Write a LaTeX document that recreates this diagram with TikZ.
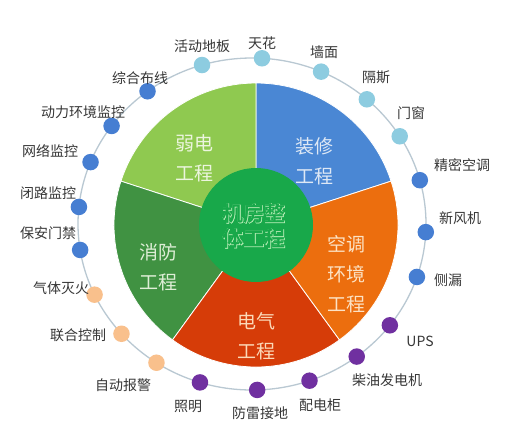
\documentclass[tikz,border=0pt]{standalone}
\usepackage{fontspec}
\setmainfont{Noto Sans CJK SC}
\newfontfamily\cjkfat[UprightFont={* Bold}, FakeBold=2]{Noto Sans CJK SC}
\newfontfamily\cjkb[UprightFont={* Bold}]{Noto Sans CJK SC}
\definecolor{blueseg}{RGB}{74,135,212}
\definecolor{lgreenseg}{RGB}{143,201,80}
\definecolor{dgreenseg}{RGB}{64,146,66}
\definecolor{redseg}{RGB}{214,60,8}
\definecolor{orangeseg}{RGB}{236,110,14}
\definecolor{cgreen}{RGB}{24,168,74}
\definecolor{outl}{RGB}{195,242,190}
\definecolor{labelgray}{RGB}{55,55,55}
\definecolor{dlblue}{RGB}{141,204,224}
\definecolor{dblue}{RGB}{70,126,210}
\definecolor{dpeach}{RGB}{249,192,140}
\definecolor{dpurple}{RGB}{112,48,160}
\definecolor{ringc}{RGB}{185,200,210}
\definecolor{tblue}{RGB}{222,232,245}
\definecolor{tlgreen}{RGB}{236,245,222}
\definecolor{tdgreen}{RGB}{222,238,214}
\definecolor{tred}{RGB}{251,217,184}
\definecolor{torange}{RGB}{252,226,196}
\begin{document}
\begin{tikzpicture}[x=1pt,y=-1pt,
  lbl/.style={font=\fontsize{14}{16}\selectfont, text=labelgray, inner sep=0pt},
  dot/.style={circle, minimum size=16.5pt, inner sep=0pt},
  seg/.style={draw=white, line width=0.8pt},
  segtxt/.style={font=\fontsize{19}{30}\selectfont, align=center, inner sep=0pt},
  ctxt/.style={align=center, inner sep=0pt}]
\useasboundingbox (0,0) rectangle (524,445);
\fill[white] (0,0) rectangle (524,445);
\coordinate (O) at (256,225);
\coordinate (R) at (252,224);
% pie segments
\path[fill=blueseg, seg] (O) -- ++(18:142pt) arc[start angle=18, end angle=90, radius=142pt] -- cycle;
\path[fill=lgreenseg, seg] (O) -- ++(90:142pt) arc[start angle=90, end angle=162, radius=142pt] -- cycle;
\path[fill=dgreenseg, seg] (O) -- ++(162:142pt) arc[start angle=162, end angle=234, radius=142pt] -- cycle;
\path[fill=redseg, seg] (O) -- ++(234:142pt) arc[start angle=234, end angle=306, radius=142pt] -- cycle;
\path[fill=orangeseg, seg] (O) -- ++(306:142pt) arc[start angle=306, end angle=378, radius=142pt] -- cycle;
\fill[cgreen] (O) circle[radius=57pt];
% segment texts
\node[segtxt, text=tlgreen] (s1) at (194,158) {弱电\\工程};
\node[segtxt, text=tblue] (s2) at (314,161) {装修\\工程};
\node[segtxt, text=torange] (s3) at (346,274) {空调\\环境\\工程};
\node[segtxt, text=tred] (s4) at (256,336) {电气\\工程};
\node[segtxt, text=tdgreen] (s5) at (158,267) {消防\\工程};
% center text (outlined look)
\node[ctxt, font=\cjkfat\fontsize{21}{25}\selectfont, text=outl] (c1) at (254,226) {机房整\\体工程};
\node[ctxt, font=\cjkb\fontsize{21}{25}\selectfont, text=cgreen] (c2) at (254,226) {机房整\\体工程};
% ring
\draw[ringc, line width=1.3pt] (R) ellipse[x radius=174pt, y radius=166pt];
% dots
\node[dot, fill=dlblue] (d1) at ([shift={(86.7:174pt and 166pt)}]R) {};
\node[dot, fill=dlblue] (d2) at ([shift={(66.6:174pt and 166pt)}]R) {};
\node[dot, fill=dlblue] (d3) at ([shift={(48.7:174pt and 166pt)}]R) {};
\node[dot, fill=dlblue] (d4) at ([shift={(31.9:174pt and 166pt)}]R) {};
\node[dot, fill=dblue] (d5) at ([shift={(15.3:174pt and 166pt)}]R) {};
\node[dot, fill=dblue] (d6) at ([shift={(-2.8:174pt and 166pt)}]R) {};
\node[dot, fill=dblue] (d7) at ([shift={(-18.6:174pt and 166pt)}]R) {};
\node[dot, fill=dpurple] (d8) at ([shift={(-37.6:174pt and 166pt)}]R) {};
\node[dot, fill=dpurple] (d9) at ([shift={(-53.0:174pt and 166pt)}]R) {};
\node[dot, fill=dpurple] (d10) at ([shift={(-70.7:174pt and 166pt)}]R) {};
\node[dot, fill=dpurple] (d11) at ([shift={(-88.3:174pt and 166pt)}]R) {};
\node[dot, fill=dpurple] (d12) at ([shift={(-107.4:174pt and 166pt)}]R) {};
\node[dot, fill=dpeach] (d13) at ([shift={(-123.3:174pt and 166pt)}]R) {};
\node[dot, fill=dpeach] (d14) at ([shift={(-138.6:174pt and 166pt)}]R) {};
\node[dot, fill=dpeach] (d15) at ([shift={(-154.8:174pt and 166pt)}]R) {};
\node[dot, fill=dblue] (d16) at ([shift={(-171.0:174pt and 166pt)}]R) {};
\node[dot, fill=dblue] (d17) at ([shift={(174.1:174pt and 166pt)}]R) {};
\node[dot, fill=dblue] (d18) at ([shift={(158.1:174pt and 166pt)}]R) {};
\node[dot, fill=dblue] (d19) at ([shift={(143.8:174pt and 166pt)}]R) {};
\node[dot, fill=dblue] (d20) at ([shift={(126.9:174pt and 166pt)}]R) {};
\node[dot, fill=dlblue] (d21) at ([shift={(106.7:174pt and 166pt)}]R) {};
% labels
\node[lbl] (l1) at (262,43) {天花};
\node[lbl] (l2) at (324,52) {墙面};
\node[lbl] (l3) at (376,77) {隔斯};
\node[lbl] (l4) at (411,113) {门窗};
\node[lbl] (l5) at (462,165) {精密空调};
\node[lbl] (l6) at (460,218) {新风机};
\node[lbl] (l7) at (448,280) {侧漏};
\node[lbl] (l8) at (420,341) {UPS};
\node[lbl] (l9) at (387,380) {柴油发电机};
\node[lbl] (l10) at (320,405) {配电柜};
\node[lbl] (l11) at (260,413) {防雷接地};
\node[lbl] (l12) at (188,407) {照明};
\node[lbl] (l13) at (123,385) {自动报警};
\node[lbl] (l14) at (78,335) {联合控制};
\node[lbl] (l15) at (61,288) {气体灭火};
\node[lbl] (l16) at (48,233) {保安门禁};
\node[lbl] (l17) at (48,193) {闭路监控};
\node[lbl] (l18) at (50,151) {网络监控};
\node[lbl] (l19) at (83,112) {动力环境监控};
\node[lbl] (l20) at (140,78) {综合布线};
\node[lbl] (l21) at (202,46) {活动地板};
\end{tikzpicture}
\end{document}
